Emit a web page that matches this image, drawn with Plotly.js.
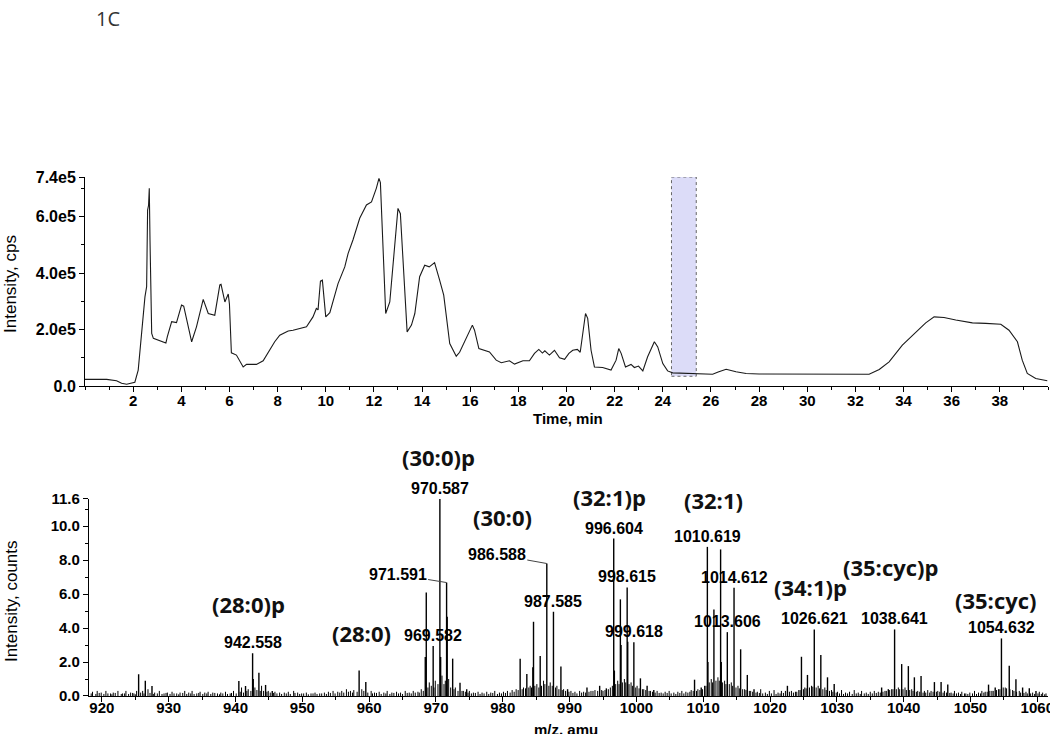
<!DOCTYPE html>
<html>
<head>
<meta charset="utf-8">
<script src="https://cdn.plot.ly/plotly-3.0.1.min.js"></script>
<style>
  html, body { margin: 0; padding: 0; background: #fff; }
  #chartplot { width: 1050px; height: 734px; }
</style>
</head>
<body>
<div id="chartplot"></div>
<script>
// TIC chromatogram (time in min, intensity in cps)
const ticTime = [0.0, 0.5, 0.9, 1.31, 1.52, 1.73, 1.9, 2.07, 2.21, 2.35, 2.49, 2.56, 2.6, 2.64, 2.67, 2.7, 2.77, 2.84,
  3.1, 3.36, 3.42, 3.6, 3.8, 4.01, 4.1, 4.43, 4.63, 4.91, 5.12, 5.39, 5.6, 5.65, 5.81, 5.95, 6.0, 6.08, 6.29,
  6.57, 6.71, 7.12, 7.4, 7.88, 8.09, 8.44, 8.64, 9.2, 9.47, 9.61, 9.68, 9.78, 9.86, 10.0, 10.17, 10.51, 10.79,
  10.93, 11.13, 11.41, 11.69, 11.9, 12.1, 12.21, 12.27, 12.4, 12.49, 12.66, 12.86, 13.0, 13.1, 13.24, 13.38,
  13.56, 13.7, 13.9, 14.11, 14.3, 14.52, 14.73, 14.9, 15.15, 15.42, 15.56, 15.9, 16.09, 16.18, 16.36, 16.8,
  17.08, 17.29, 17.63, 17.84, 18.19, 18.46, 18.67, 18.85, 19.0, 19.1, 19.29, 19.5, 19.71, 19.92, 20.1, 20.26,
  20.45, 20.57, 20.7, 20.79, 20.88, 21.02, 21.16, 21.5, 21.85, 22.06, 22.17, 22.27, 22.45, 22.68, 22.82, 22.99,
  23.17, 23.37, 23.65, 23.79, 24.0, 24.2, 24.41, 25.24, 25.8, 26.07, 26.3, 26.63, 27.04, 27.46, 28.0, 29.4,
  30.05, 31.0, 32.0, 32.57, 32.99, 33.4, 33.95, 34.51, 34.92, 35.27, 35.68, 36.17, 36.86, 37.41, 38.04, 38.38,
  38.73, 38.93, 39.14, 39.49, 39.97];
const ticInt = [24000, 24000, 24000, 19000, 10000, 7000, 10000, 14000, 57000, 187000, 316000, 352000, 623000, 640000,
  700000, 517000, 187000, 169000, 160000, 153000, 175000, 228000, 225000, 287000, 283000, 157000, 210000,
  307000, 257000, 251000, 358000, 360000, 298000, 326000, 290000, 118000, 110000, 68000, 77000, 77000, 90000,
  157000, 180000, 195000, 198000, 210000, 245000, 275000, 270000, 372000, 375000, 245000, 260000, 363000,
  422000, 470000, 517000, 594000, 641000, 652000, 700000, 735000, 720000, 434000, 257000, 298000, 505000,
  629000, 610000, 399000, 192000, 216000, 257000, 387000, 428000, 422000, 437000, 375000, 322000, 151000,
  106000, 120000, 180000, 216000, 198000, 133000, 121000, 92000, 83000, 90000, 78000, 90000, 90000, 116000,
  130000, 117000, 125000, 110000, 127000, 100000, 95000, 116000, 127000, 130000, 120000, 210000, 257000,
  240000, 127000, 68000, 66000, 57000, 92000, 133000, 116000, 68000, 77000, 66000, 71000, 54000, 104000,
  157000, 139000, 80000, 54000, 47000, 45000, 43000, 42000, 50000, 60000, 51000, 45000, 43000, 43000, 44000,
  43000, 42000, 42000, 59000, 86000, 145000, 192000, 224000, 245000, 243000, 234000, 224000, 222000, 219000,
  198000, 157000, 92000, 45000, 27000, 19000];

// mass spectrum, main peaks (m/z, counts)
const peakMz = [925.5, 926.5, 927.5, 940.5, 941.5, 942.558, 942.65, 943.5, 944.5, 945.5, 958.5, 959.5,
  968.4, 968.55, 969.582, 970.587, 970.7, 971.591, 971.68, 972.5, 973.6, 974.6, 982.6, 983.6, 984.5, 984.6,
  985.6, 986.588, 987.585, 988.7, 989.7, 992.6, 994.5, 995.5, 996.604, 996.7, 997.6, 997.7, 998.615, 998.7,
  999.618, 1000.6, 1001.6, 1002.6, 1008.7, 1009.7, 1010.619, 1010.7, 1011.6, 1012.6, 1012.7, 1013.606,
  1014.612, 1015.6, 1016.6, 1017.6, 1022.6, 1024.7, 1025.6, 1026.621, 1027.6, 1028.6, 1029.6, 1036.7,
  1037.7, 1038.641, 1039.7, 1040.7, 1041.6, 1042.6, 1044.6, 1045.6, 1046.6, 1052.7, 1053.7, 1054.632,
  1055.8, 1056.8, 1057.8, 1058.8, 1059.8];
const peakInt = [1.28, 0.9, 0.59, 0.88, 0.59, 2.51, 1.0, 1.37, 0.65, 0.3, 1.5, 0.82,
  2.3, 6.1, 2.94, 11.6, 2.3, 6.68, 4.67, 2.2, 0.78, 0.4, 2.2, 1.3, 1.7, 4.37,
  2.35, 7.8, 4.96, 1.73, 0.4, 0.5, 0.6, 0.45, 9.27, 1.5, 5.69, 3.0, 6.39, 3.2,
  3.16, 1.04, 0.6, 0.35, 0.96, 0.5, 8.78, 2.0, 5.1, 8.63, 2.0, 3.76,
  6.37, 2.75, 1.24, 0.4, 0.6, 2.31, 1.24, 3.92, 2.41, 1.1, 0.7, 0.5,
  0.4, 3.92, 1.88, 1.76, 1.1, 1.18, 0.82, 0.82, 0.67, 0.67, 0.5, 3.39,
  1.78, 0.98, 0.5, 0.45, 0.3];

// small sticks along the baseline
const noiseMz = [918.6, 919.3, 919.9, 920.6, 921.3, 921.7, 922.4, 923.1, 923.6, 924.3, 924.8, 925.2, 926.1, 926.9,
  927.9, 928.6, 929.3, 929.8, 930.5, 931.2, 931.7, 932.4, 933.0, 933.5, 934.2, 934.7, 935.4, 935.9, 936.6,
  937.3, 937.8, 938.5, 939.2, 939.7, 940.9, 941.9, 942.9, 943.9, 944.9, 945.9, 946.6, 947.3, 947.9, 948.7,
  949.3, 949.9, 950.6, 951.3, 951.9, 952.6, 953.3, 953.9, 954.6, 955.3, 955.9, 956.6, 957.2, 957.7, 958.9,
  960.3, 960.8, 961.5, 962.2, 962.7, 963.4, 964.1, 964.7, 965.4, 966.0, 966.6, 967.3, 967.8, 969.0, 969.9,
  970.9, 971.9, 972.9, 974.1, 975.0, 975.6, 976.3, 976.9, 977.6, 978.2, 978.8, 979.5, 980.1, 980.7, 981.4,
  982.0, 983.1, 984.1, 985.1, 986.1, 987.1, 988.1, 989.1, 990.2, 990.8, 991.5, 992.1, 993.2, 993.8, 995.0,
  996.1, 997.2, 998.2, 999.2, 1000.1, 1001.1, 1002.1, 1003.1, 1003.7, 1004.3, 1004.9, 1005.6, 1006.2,
  1006.8, 1007.4, 1008.2, 1009.2, 1010.2, 1011.2, 1012.2, 1013.2, 1014.2, 1015.2, 1016.2, 1017.1, 1018.1,
  1018.6, 1019.3, 1019.9, 1020.6, 1021.2, 1021.7, 1023.2, 1023.8, 1024.3, 1025.2, 1026.2, 1027.2, 1028.2,
  1029.2, 1030.1, 1030.7, 1031.3, 1031.9, 1032.6, 1033.2, 1033.7, 1034.4, 1035.0, 1035.6, 1036.2, 1037.2,
  1038.2, 1039.2, 1040.2, 1041.2, 1042.1, 1043.1, 1043.6, 1044.1, 1045.1, 1046.1, 1047.1, 1047.6, 1048.2,
  1048.7, 1049.3, 1049.9, 1050.6, 1051.2, 1051.7, 1052.2, 1053.2, 1054.2, 1055.2, 1056.3, 1057.3, 1058.3,
  1059.3, 1060.3, 1060.8, 1061.3];
const noiseInt = [0.25, 0.3, 0.2, 0.3, 0.15, 0.2, 0.3, 0.15, 0.3, 0.2, 0.15, 0.3, 0.3, 0.4,
  0.2, 0.3, 0.15, 0.2, 0.25, 0.15, 0.2, 0.3, 0.2, 0.3, 0.15, 0.25, 0.2, 0.25, 0.2,
  0.15, 0.2, 0.25, 0.15, 0.3, 0.5, 0.4, 0.5, 0.6, 0.3, 0.25, 0.2, 0.2, 0.25, 0.3,
  0.2, 0.15, 0.2, 0.15, 0.2, 0.15, 0.2, 0.25, 0.3, 0.25, 0.3, 0.4, 0.3, 0.35, 0.4,
  0.3, 0.2, 0.25, 0.2, 0.3, 0.2, 0.25, 0.2, 0.3, 0.2, 0.3, 0.25, 0.4, 0.8, 0.9,
  1.2, 1.0, 0.5, 0.3, 0.3, 0.2, 0.25, 0.2, 0.25, 0.2, 0.3, 0.2, 0.25, 0.3, 0.35,
  0.4, 0.5, 0.6, 0.7, 0.9, 0.8, 0.6, 0.4, 0.3, 0.25, 0.3, 0.25, 0.3, 0.35, 0.3,
  0.5, 0.9, 1.0, 0.8, 0.6, 0.4, 0.3, 0.3, 0.2, 0.25, 0.3, 0.2, 0.25,
  0.3, 0.25, 0.35, 0.4, 0.6, 1.0, 1.1, 0.9, 0.8, 0.6, 0.4, 0.3, 0.25,
  0.4, 0.2, 0.3, 0.35, 0.2, 0.3, 0.3, 0.25, 0.35, 0.5, 0.6, 0.6, 0.5,
  0.35, 0.25, 0.35, 0.2, 0.25, 0.35, 0.2, 0.3, 0.2, 0.25, 0.3, 0.25, 0.3,
  0.4, 0.5, 0.5, 0.4, 0.3, 0.3, 0.35, 0.3, 0.3, 0.3, 0.2, 0.3, 0.2,
  0.25, 0.15, 0.2, 0.3, 0.2, 0.3, 0.25, 0.3, 0.4, 0.5, 0.35, 0.3, 0.25,
  0.2, 0.25, 0.2, 0.15];

// the denser fuzz of the baseline, [m/z, counts]
const floorSticks = [[918.4, .15], [919.1, .12], [919.6, .18], [920.3, .12], [920.9, .15], [921.5, .1], [922.0, .18],
  [922.9, .12], [923.4, .15], [924.0, .12], [924.6, .18], [925.0, .1], [925.8, .2], [926.3, .15], [927.2, .18],
  [927.7, .12], [928.3, .15], [929.0, .12], [929.6, .18], [930.2, .12], [930.8, .15], [931.5, .1], [932.1, .18],
  [932.7, .12], [933.3, .15], [933.8, .12], [934.5, .18], [935.1, .12], [935.7, .15], [936.3, .12], [936.9, .18],
  [937.6, .1], [938.1, .15], [938.8, .12], [939.4, .18], [940.1, .15], [940.7, .25], [941.2, .2], [941.7, .3],
  [942.3, .3], [943.2, .35], [943.7, .3], [944.2, .3], [944.7, .25], [945.2, .2], [945.7, .18], [946.2, .15],
  [946.9, .12], [947.6, .15], [948.2, .12], [948.9, .18], [949.6, .12], [950.2, .15], [950.9, .1], [951.6, .15],
  [952.2, .12], [952.9, .15], [953.6, .12], [954.2, .18], [954.9, .15], [955.6, .2], [956.2, .2], [956.9, .25],
  [957.5, .2], [958.2, .25], [959.2, .3], [959.8, .2], [960.5, .15], [961.1, .18], [961.8, .12], [962.5, .15],
  [963.1, .12], [963.7, .18], [964.4, .15], [965.0, .12], [965.7, .18], [966.3, .15], [966.9, .2], [967.5, .2],
  [968.1, .3], [968.8, .5], [969.3, .6], [969.7, .5], [970.3, .7], [971.2, .7], [971.4, .9], [972.2, .5],
  [972.7, .4], [973.3, .3], [973.9, .3], [974.4, .25], [974.8, .2], [975.3, .15], [975.9, .18], [976.6, .12],
  [977.2, .15], [977.9, .12], [978.5, .18], [979.2, .12], [979.8, .15], [980.4, .18], [981.1, .2], [981.7, .25],
  [982.3, .35], [982.9, .4], [983.4, .45], [983.9, .5], [984.3, .5], [984.8, .6], [985.4, .5], [985.8, .6],
  [986.3, .7], [986.9, .6], [987.4, .6], [987.9, .5], [988.4, .4], [988.9, .35], [989.4, .3], [989.9, .25],
  [990.5, .18], [991.1, .15], [991.8, .2], [992.4, .2], [992.9, .25], [993.5, .3], [994.2, .3], [994.8, .35],
  [995.3, .35], [995.8, .4], [996.4, .6], [996.9, .7], [997.4, .7], [997.9, .8], [998.4, .8], [998.9, .7],
  [999.4, .6], [999.9, .5], [1000.4, .45], [1000.9, .4], [1001.4, .35], [1001.9, .3], [1002.4, .25], [1002.8, .2],
  [1003.4, .18], [1004.0, .15], [1004.6, .18], [1005.2, .15], [1005.9, .12], [1006.5, .18], [1007.1, .15],
  [1007.7, .2], [1008.0, .25], [1008.5, .3], [1009.0, .3], [1009.5, .35], [1009.9, .4], [1010.4, .6], [1010.9, .8],
  [1011.4, .8], [1011.9, .9], [1012.4, .9], [1012.9, .8], [1013.4, .7], [1013.9, .7], [1014.4, .6], [1014.9, .5],
  [1015.4, .45], [1015.9, .4], [1016.4, .35], [1016.9, .3], [1017.4, .25], [1017.9, .2], [1018.4, .18],
  [1018.9, .15], [1019.6, .12], [1020.2, .15], [1020.9, .12], [1021.5, .15], [1022.0, .18], [1022.3, .3],
  [1022.9, .25], [1023.5, .2], [1024.0, .25], [1024.5, .35], [1025.0, .4], [1025.4, .45], [1025.9, .5],
  [1026.4, .55], [1026.9, .5], [1027.4, .45], [1027.9, .4], [1028.4, .35], [1028.9, .3], [1029.4, .25],
  [1029.9, .2], [1030.4, .15], [1031.0, .12], [1031.6, .15], [1032.3, .12], [1032.9, .15], [1033.5, .12],
  [1034.1, .15], [1034.7, .12], [1035.3, .15], [1035.9, .18], [1036.5, .2], [1036.9, .25], [1037.4, .3],
  [1037.9, .35], [1038.4, .4], [1038.9, .4], [1039.4, .4], [1039.9, .4], [1040.4, .35], [1040.9, .35],
  [1041.4, .3], [1041.9, .25], [1042.4, .25], [1042.9, .2], [1043.3, .2], [1043.9, .2], [1044.4, .25],
  [1044.9, .25], [1045.4, .25], [1045.9, .2], [1046.4, .2], [1046.9, .18], [1047.4, .15], [1047.9, .15],
  [1048.5, .12], [1049.1, .15], [1049.6, .12], [1050.3, .15], [1050.9, .12], [1051.5, .15], [1052.0, .2],
  [1052.5, .25], [1052.9, .3], [1053.4, .3], [1053.9, .35], [1054.4, .4], [1054.9, .5], [1055.4, .45],
  [1055.9, .4], [1056.5, .3], [1056.9, .25], [1057.5, .2], [1058.0, .18], [1058.5, .15], [1059.0, .15],
  [1059.6, .12], [1060.1, .15], [1060.6, .12], [1061.1, .1]];

// peaks that carry an m/z label
const labelledMz = [942.558, 969.582, 970.587, 971.591, 986.588, 987.585, 996.604, 998.615, 999.618,
  1010.619, 1013.606, 1014.612, 1026.621, 1038.641, 1054.632];

// lipid species names
const speciesNames = ['(28:0)p', '(28:0)', '(30:0)p', '(30:0)', '(32:1)p', '(32:1)', '(34:1)p', '(35:cyc)p', '(35:cyc)'];

const timeTicks = [2, 4, 6, 8, 10, 12, 14, 16, 18, 20, 22, 24, 26, 28, 30, 32, 34, 36, 38];
const ticYTicks = [0, 200000, 400000, 600000, 740000];
const ticYLabels = ['0.0', '2.0e5', '4.0e5', '6.0e5', '7.4e5'];
const msYTicks = [0, 2, 4, 6, 8, 10, 11.6];
const msYLabels = ['0.0', '2.0', '4.0', '6.0', '8.0', '10.0', '11.6'];

const selWindow = [24.36, 25.39];

// sticks: every peak becomes a vertical segment from 0
function sticks(mz, inten) {
  const x = [], y = [];
  mz.forEach((m, i) => { x.push(m, m, null); y.push(0, inten[i], null); });
  return { x, y };
}
const fl = sticks(floorSticks.map(p => p[0]).concat(noiseMz), floorSticks.map(p => p[1]).concat(noiseInt));
const st = sticks(peakMz, peakInt);

const FONT = 'Liberation Sans, Arial, sans-serif';
const tickFont = (s) => ({ family: FONT, size: s, color: '#000', weight: 'bold' });

const data = [
  {
    type: 'scatter', mode: 'lines', x: ticTime, y: ticInt,
    line: { color: '#1a1a1a', width: 1.1 }, xaxis: 'x', yaxis: 'y', hoverinfo: 'x+y'
  },
  {
    type: 'scatter', mode: 'lines', x: fl.x, y: fl.y,
    line: { color: '#000', width: 1 }, xaxis: 'x2', yaxis: 'y2', hoverinfo: 'skip'
  },
  {
    type: 'scatter', mode: 'lines', x: st.x, y: st.y,
    line: { color: '#000', width: 1.4 }, xaxis: 'x2', yaxis: 'y2', hoverinfo: 'x+y'
  },
  // blue level markers and the teal time marker
  {
    type: 'scatter', mode: 'markers', x: [-0.1], y: [69000], xaxis: 'x', yaxis: 'y', cliponaxis: false,
    marker: { symbol: 'triangle-right', size: 9, color: '#1515d8' }, hoverinfo: 'skip'
  },
  {
    type: 'scatter', mode: 'markers', x: [20], y: [-36000], xaxis: 'x', yaxis: 'y', cliponaxis: false,
    marker: { symbol: 'triangle-down', size: 7, color: '#1f9c8c' }, hoverinfo: 'skip'
  },
  {
    type: 'scatter', mode: 'markers', x: [917.95], y: [2.3], xaxis: 'x2', yaxis: 'y2', cliponaxis: false,
    marker: { symbol: 'triangle-right', size: 9, color: '#1515d8' }, hoverinfo: 'skip'
  },
];

const annotations = [];

// m/z labels above peaks; two of them sit to the left with a leader line
const leader = { 971.591: [-49, -8], 986.588: [-50, -9] };
labelledMz.forEach((m) => {
  const i = peakMz.indexOf(m);
  const a = {
    xref: 'x2', yref: 'y2', x: m, y: peakInt[i], text: m.toFixed(3),
    font: { family: FONT, size: 16, color: '#000', weight: 'bold' }
  };
  if (leader[m]) {
    Object.assign(a, { showarrow: true, ax: leader[m][0], ay: leader[m][1], arrowhead: 0,
      arrowwidth: 1, arrowcolor: '#444', standoff: 0 });
  } else {
    Object.assign(a, { showarrow: false, xanchor: 'center', yanchor: 'bottom', yshift: 0 });
  }
  annotations.push(a);
});

// species labels: x on the m/z axis, y in paper units
const speciesPos = [[942.0, 0.1773], [958.9, 0.1214], [970.4, 0.4605], [979.9, 0.3449], [996.0, 0.3834],
  [1011.5, 0.3776], [1026.0, 0.21], [1038.1, 0.2486], [1053.7, 0.185]];
speciesNames.forEach((s, i) => {
  annotations.push({
    xref: 'x2', yref: 'paper', x: speciesPos[i][0], y: speciesPos[i][1], text: s, showarrow: false,
    xanchor: 'center', yanchor: 'middle',
    font: { family: 'Open Sans, Noto Sans, sans-serif', size: 22, color: '#111', weight: 'bold' }
  });
});

// axis titles and panel label
const mid = { xref: 'paper', yref: 'paper', showarrow: false, xanchor: 'center', yanchor: 'middle' };
annotations.push(
  Object.assign({}, mid, { x: -0.0768, y: 0.794, text: 'Intensity, cps', textangle: -90,
    font: { family: FONT, size: 17, color: '#000' } }),
  Object.assign({}, mid, { x: -0.0768, y: 0.183, text: 'Intensity, counts', textangle: -90,
    font: { family: FONT, size: 17, color: '#000' } }),
  Object.assign({}, mid, { x: 0.5016, y: 0.5356, text: 'Time, min',
    font: { family: FONT, size: 15, color: '#000', weight: 'bold' } }),
  Object.assign({}, mid, { x: 0.4995, y: -0.0655, text: 'm/z, amu',
    font: { family: FONT, size: 15, color: '#000', weight: 'bold' } }),
  Object.assign({}, mid, { x: 0.024, y: 1.306, text: '1C',
    font: { family: 'Open Sans, sans-serif', size: 20, color: '#333' } })
);

const axisBase = {
  showgrid: false, zeroline: false, showline: true, linecolor: '#000', linewidth: 1,
  ticks: 'outside', ticklen: 5, tickwidth: 1, tickcolor: '#000', ticklabeloverflow: 'allow'
};

const layout = {
  width: 1050, height: 734, autosize: false, showlegend: false,
  paper_bgcolor: '#fff', plot_bgcolor: '#fff',
  margin: { l: 85, r: 2, t: 177, b: 38 },
  xaxis: Object.assign({}, axisBase, {
    domain: [0, 1], anchor: 'y', range: [0, 40], tickmode: 'array', tickvals: timeTicks,
    tickfont: tickFont(15), ticklabelstandoff: -4,
    minor: { dtick: 1, tick0: 0, ticks: 'outside', ticklen: 3, tickcolor: '#000' }
  }),
  yaxis: Object.assign({}, axisBase, {
    domain: [0.597, 1], anchor: 'x', range: [0, 740000], tickmode: 'array', tickvals: ticYTicks,
    ticktext: ticYLabels, tickfont: tickFont(16),
    minor: { dtick: 100000, tick0: 0, ticks: 'outside', ticklen: 3, tickcolor: '#000' }
  }),
  xaxis2: Object.assign({}, axisBase, {
    domain: [0.004, 1], anchor: 'y2', range: [918.05, 1061.6], dtick: 10, tick0: 920,
    tickfont: tickFont(15), ticklabelstandoff: -7,
    minor: { dtick: 5, tick0: 920, ticks: 'outside', ticklen: 3, tickcolor: '#000' }
  }),
  yaxis2: Object.assign({}, axisBase, {
    domain: [0, 0.3796], anchor: 'x2', range: [0, 11.6], tickmode: 'array', tickvals: msYTicks,
    ticktext: msYLabels, tickfont: tickFont(15),
    minor: { dtick: 1, tick0: 0, ticks: 'outside', ticklen: 3, tickcolor: '#000' }
  }),
  shapes: [{
    type: 'rect', xref: 'x', yref: 'y', x0: selWindow[0], x1: selWindow[1], y0: 35000, y1: 740000,
    fillcolor: '#dcdcf8', line: { color: '#666', width: 1, dash: 'dot' }, layer: 'below'
  }],
  annotations: annotations
};

Plotly.newPlot('chartplot', data, layout, { staticPlot: true });
</script>
</body>
</html>
